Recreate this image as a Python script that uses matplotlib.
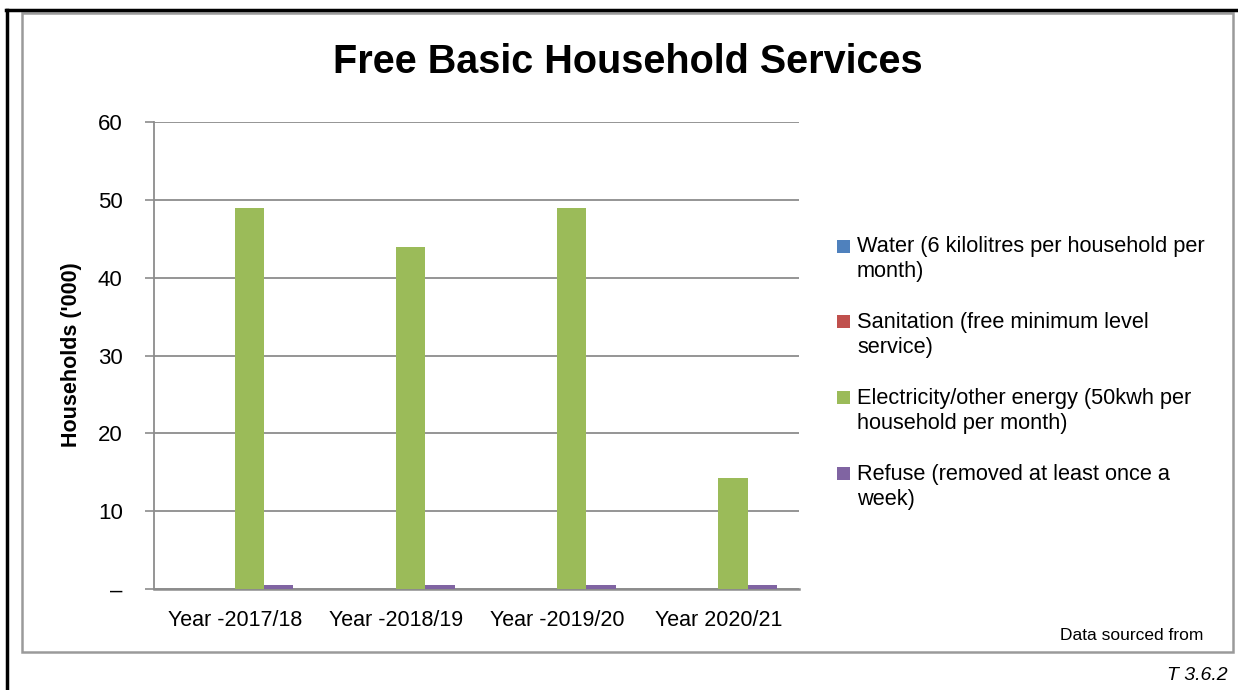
import matplotlib.pyplot as plt
from matplotlib.patches import Rectangle
from matplotlib.lines import Line2D
import numpy as np

plt.rcParams['font.family'] = ['Liberation Sans', 'DejaVu Sans']

# data
years = ['Year -2017/18', 'Year -2018/19', 'Year -2019/20', 'Year 2020/21']
series = [
    'Water (6 kilolitres per household per\nmonth)',
    'Sanitation (free minimum level\nservice)',
    'Electricity/other energy (50kwh per\nhousehold per month)',
    'Refuse (removed at least once a\nweek)',
]
water = [0, 0, 0, 0]
sanitation = [0, 0, 0, 0]
electricity = [49, 44, 49, 14.3]
refuse = [0.5, 0.5, 0.5, 0.5]
colors = ['#4F81BD', '#C0504D', '#9BBB59', '#8064A2']

W, H = 1238, 690
fig = plt.figure(figsize=(W / 100, H / 100), dpi=100)

# frames: black outer lines + grey inner chart box
fig.add_artist(Line2D([6 / W, 1], [1 - 10 / H, 1 - 10 / H], color='black', lw=2.5))
fig.add_artist(Line2D([7 / W, 7 / W], [0, 1 - 10 / H], color='black', lw=2.5))
fig.add_artist(Rectangle((22 / W, 1 - 652 / H), (1233 - 22) / W, (652 - 13) / H,
                         fill=False, edgecolor='#9A9A9A', lw=1.8))

ax = fig.add_axes([154 / W, 1 - 589 / H, (799 - 154) / W, (589 - 122) / H])

x = np.arange(len(years))
w = 1 / 5.5
values = [water, sanitation, electricity, refuse]
for i, vals in enumerate(values):
    ax.bar(x + (i - 1.5) * w, vals, width=w, color=colors[i], zorder=3)

ax.set_xlim(-0.5, len(years) - 0.5)
ax.set_ylim(0, 60)
ax.set_yticks(range(0, 61, 10))
ax.set_yticklabels(['–'] + [str(v) for v in range(10, 61, 10)])
ax.set_xticks(x)
ax.set_xticklabels(years)
ax.tick_params(axis='y', length=6.5, width=1.2, color='#8C8C8C', pad=16, labelsize=16)
ax.tick_params(axis='x', length=0, pad=15, labelsize=15.5)
ax.grid(axis='y', color='#8C8C8C', lw=1.3, zorder=0)
for s in ['top', 'right']:
    ax.spines[s].set_visible(False)
ax.spines['left'].set_color('#8C8C8C')
ax.spines['bottom'].set_color('#8C8C8C')
ax.spines['left'].set_linewidth(1.3)
ax.spines['bottom'].set_linewidth(1.8)

fig.text(72 / W, 1 - 355 / H, "Households ('000)", rotation=90, ha='center', va='center',
         fontsize=15.5, fontweight='bold')
fig.text(628 / W, 1 - 62 / H, 'Free Basic Household Services', ha='center', va='center',
         fontsize=28.5, fontweight='bold')

# legend, drawn by hand so the square sits on the first line
for i, lab in enumerate(series):
    yc = 246 + 75.7 * i
    fig.add_artist(Rectangle((837 / W, 1 - (yc + 6.5) / H), 13 / W, 13 / H,
                             facecolor=colors[i], edgecolor='none'))
    fig.text(857 / W, 1 - (yc + 13.5) / H, lab, ha='left', va='center',
             fontsize=15.7, linespacing=1.25)

fig.text(1060 / W, 1 - 636 / H, 'Data sourced from', ha='left', va='center', fontsize=12.5)
fig.text(1228 / W, 1 - 676 / H, 'T 3.6.2', ha='right', va='center', fontsize=14, style='italic')

fig.savefig('out.png', dpi=100)
